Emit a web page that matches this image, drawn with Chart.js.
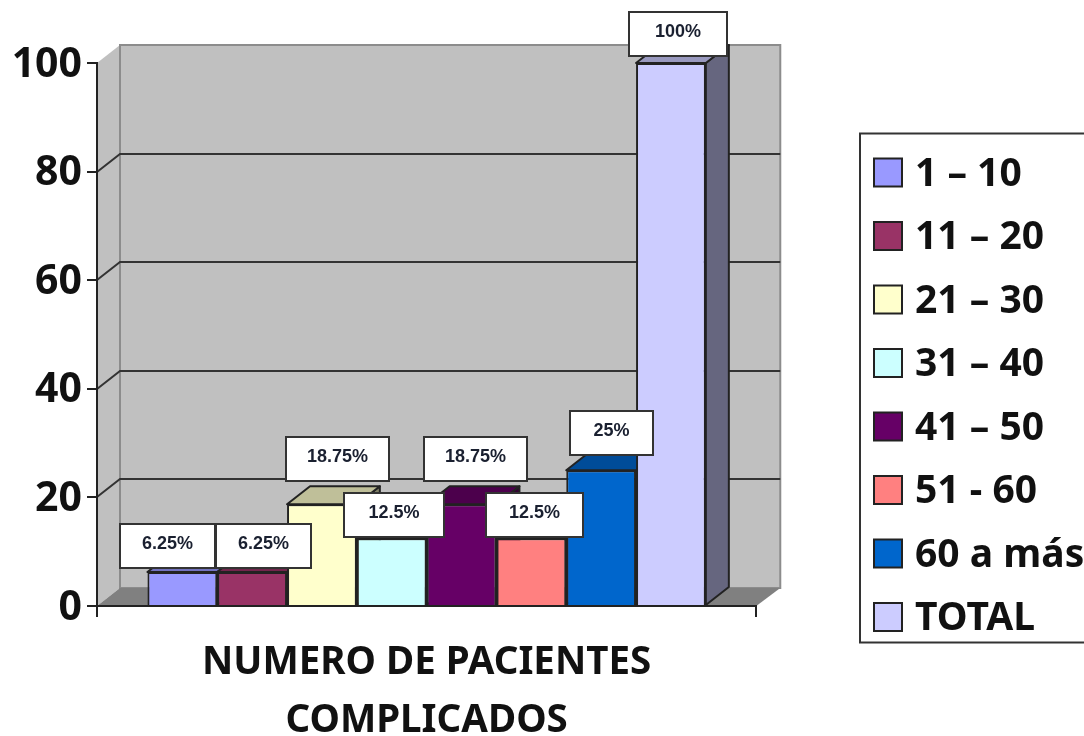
<!DOCTYPE html>
<html><head><meta charset="utf-8">
<style>html,body{margin:0;padding:0;background:#fff}canvas{display:block}</style>
<script src="https://cdn.jsdelivr.net/npm/chart.js@4"></script></head>
<body><canvas id="c" width="1084" height="736"></canvas>
<script>
const seriesNames = ['1 – 10','11 – 20','21 – 30','31 – 40','41 – 50','51 - 60','60 a más','TOTAL'];
const seriesValues = [6.25,6.25,18.75,12.5,18.75,12.5,25,100];
const seriesColors = ['#9999FF','#993366','#FFFFCC','#CCFFFF','#660066','#FF8080','#0066CC','#CCCCFF'];
const categories = [''];
const axisTitle = ['NUMERO DE PACIENTES','COMPLICADOS'];
const yTicks = [0,20,40,60,80,100];

const FONT = '"Noto Sans"';
const DX = 23, DY = 18;               // 3D depth
const INK = '#222222';
const LEGEND_PAD = 24.5, LEGEND_SIZE = 39, SWATCH_X = 874, SWATCH_Y0 = 172.5;
// label box placement relative to its bar top: [dx of centre, gap above top, width]
const boxStyle = [[-15,4,95],[11,4,95],[16,23,103],[2,1,100],[14,23,103],[3,1,97],[10,15,83],[7,7,98]];
const BOX_H = 44;

function shade(hex,f){
  const n=parseInt(hex.slice(1),16);
  return `rgb(${(n>>16&255)*f|0},${(n>>8&255)*f|0},${(n&255)*f|0})`;
}
function poly(ctx,pts,fill,stroke,lw){
  ctx.beginPath();pts.forEach((p,i)=>i?ctx.lineTo(p[0],p[1]):ctx.moveTo(p[0],p[1]));ctx.closePath();
  if(fill){ctx.fillStyle=fill;ctx.fill();}
  if(stroke){ctx.strokeStyle=stroke;ctx.lineWidth=lw||1;ctx.stroke();}
}
const scene = {
  id:'scene',
  afterLayout(chart){
    const l=chart.legend;
    l.left=SWATCH_X-LEGEND_PAD; l.right=1114; l.width=l.right-l.left;
    l.top=SWATCH_Y0+2-LEGEND_SIZE/2-LEGEND_PAD; l.bottom=736; l.height=l.bottom-l.top;
  },
  beforeDraw(chart){
    const c=chart.ctx,{left:x0,right:x1,bottom:y0}=chart.chartArea,y=chart.scales.y;
    c.save();
    c.fillStyle='#fff';c.fillRect(0,0,chart.width,chart.height);
    // legend frame
    c.strokeStyle='#333';c.lineWidth=2;c.strokeRect(860,133.5,240,509);
    // walls + floor
    const top=y.getPixelForValue(100);
    poly(c,[[x0,y0],[x0,top],[x0+DX,top-DY],[x0+DX,y0-DY]],'#C0C0C0');
    poly(c,[[x0+DX,top-DY],[x1+DX+1,top-DY],[x1+DX+1,y0-DY],[x0+DX,y0-DY]],'#C0C0C0','#8c8c8c',2);
    poly(c,[[x0,y0],[x0+DX,y0-DY],[x1+DX+1,y0-DY],[x1,y0]],'#808080');
    // gridlines on walls
    c.strokeStyle='#333';c.lineWidth=2;
    yTicks.filter(v=>v>0&&v<100).forEach(v=>{
      const p=Math.round(y.getPixelForValue(v));
      c.beginPath();c.moveTo(x0,p);c.lineTo(x0+DX,p-DY);c.lineTo(x1+DX+1,p-DY);c.stroke();
    });
    c.restore();
  },
  beforeDatasetsDraw(chart){
    const c=chart.ctx;
    c.save();c.lineJoin='round';
    chart.data.datasets.forEach((ds,i)=>{
      const b=chart.getDatasetMeta(i).data[0];
      const l=b.x-b.width/2,r=b.x+b.width/2,t=b.y,base=b.base;
      poly(c,[[r,t],[r+DX,t-DY],[r+DX,base-DY],[r,base]],shade(ds.backgroundColor,0.5),INK,2);
      poly(c,[[l,t],[l+DX,t-DY],[r+DX,t-DY],[r,t]],shade(ds.backgroundColor,0.75),INK,2);
    });
    c.restore();
  },
  afterDatasetsDraw(chart){
    const c=chart.ctx;
    c.save();
    chart.data.datasets.forEach((ds,i)=>{
      const b=chart.getDatasetMeta(i).data[0],[dx,gap,w]=boxStyle[i];
      const cx=b.x+dx,by=b.y-gap;
      const xL=Math.round(cx-w/2),yT=Math.round(by-BOX_H);
      c.fillStyle='#fff';c.fillRect(xL,yT,w,BOX_H);
      c.strokeStyle='#333';c.lineWidth=2;c.strokeRect(xL,yT,w,BOX_H);
      c.fillStyle='#1a2030';c.font='bold 18px "Liberation Sans"';c.textAlign='center';c.textBaseline='middle';
      c.fillText(ds.data[0]+'%',xL+w/2,yT+BOX_H/2-2);
    });
    c.restore();
  },
  afterDraw(chart){
    // widen the legend swatches to their full size, keeping the text position
    const c=chart.ctx,l=chart.legend;
    c.save();
    l.legendItems.forEach((it,i)=>{
      const yc=SWATCH_Y0+i*(LEGEND_SIZE+LEGEND_PAD);
      c.fillStyle=it.fillStyle;c.strokeStyle=INK;c.lineWidth=2;
      c.fillRect(SWATCH_X,yc-14,28,28);c.strokeRect(SWATCH_X,yc-14,28,28);
    });
    c.restore();
  }
};
Chart.defaults.animation=false;
new Chart(document.getElementById('c'),{
  type:'bar',
  data:{labels:categories,datasets:seriesNames.map((n,i)=>({
    label:n,data:[seriesValues[i]],backgroundColor:seriesColors[i],borderColor:INK,borderWidth:2,
    categoryPercentage:0.847,barPercentage:1
  }))},
  options:{
    responsive:false,animation:false,
    layout:{padding:{top:63,left:0,right:83,bottom:0}},
    plugins:{
      tooltip:{enabled:false},title:{display:false},
      legend:{display:true,position:'right',align:'start',
        labels:{boxWidth:21.5,boxHeight:21,padding:LEGEND_PAD,color:'#111',font:{family:FONT,size:LEGEND_SIZE,weight:'bold'}}}
    },
    scales:{
      x:{
        type:'category',
        afterFit(s){s.height=130;},
        grid:{offset:true,drawOnChartArea:false,drawTicks:true,tickLength:11,color:INK,lineWidth:2},
        border:{color:INK,width:2},
        ticks:{display:false},
        title:{display:true,text:axisTitle,color:'#111',font:{family:FONT,size:38.5,weight:'bold',lineHeight:1.5},padding:{top:0,bottom:-14}}
      },
      y:{
        min:0,max:100,
        afterFit(s){s.width=97;},
        afterBuildTicks(s){s.ticks=yTicks.map(v=>({value:v}));},
        grid:{drawOnChartArea:false,drawTicks:true,tickLength:10,color:INK,lineWidth:2},
        border:{color:INK,width:2},
        ticks:{padding:5,labelOffset:2,color:'#111',font:{family:FONT,size:41,weight:'bold'}}
      }
    }
  },
  plugins:[scene]
});
</script></body></html>
